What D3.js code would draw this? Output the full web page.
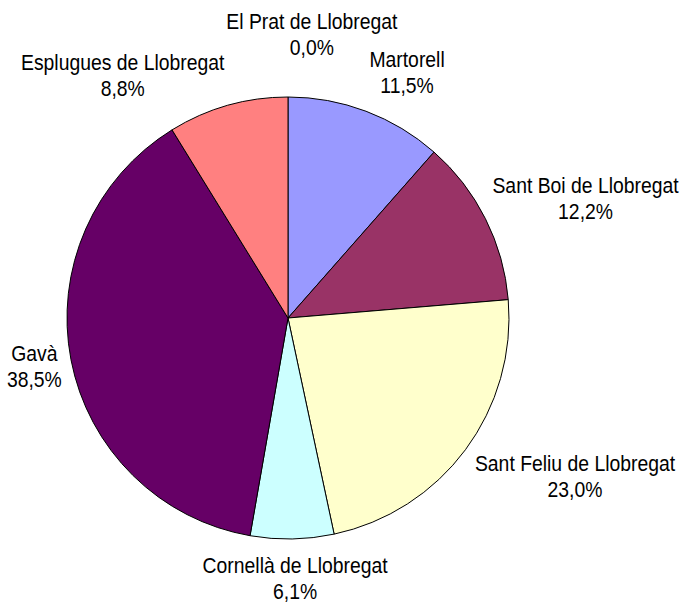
<!DOCTYPE html>
<html>
<head>
<meta charset="utf-8">
<script src="https://cdn.jsdelivr.net/npm/d3@7"></script>
<style>
  body { margin: 0; background: #fff; }
  text { font-family: "Liberation Sans", Arial, sans-serif; font-size: 22px; fill: #000; }
</style>
</head>
<body>
<svg width="685" height="602"></svg>
<script>
// data, clockwise from 12 o'clock
const names = ['Martorell', 'Sant Boi de Llobregat', 'Sant Feliu de Llobregat',
    'Cornellà de Llobregat', 'Gavà', 'Esplugues de Llobregat', 'El Prat de Llobregat'];
const shares = [11.5, 12.2, 23.0, 6.1, 38.5, 8.8, 0.0];
const colors = ['#9999FF', '#993366', '#FFFFCC', '#CCFFFF', '#660066', '#FF8080', '#0066CC'];

// hand nudges for labels (Excel moved some of them)
const labelNudge = {
    'Martorell': [21, 2],
    'Sant Boi de Llobregat': [0, -1],
    'Sant Feliu de Llobregat': [14, 0],
    'Cornellà de Llobregat': [1, -5],
    'Gavà': [9, -2],
    'Esplugues de Llobregat': [-72, 12],
    'El Prat de Llobregat': [24, -19]
};

const svg = d3.select('svg');
const cx = 288, cy = 318, radius = 221;
const narrow = 0.88; // fake a narrow face

const data = names.map((n, i) => ({ name: n, value: shares[i], color: colors[i] }));

const pie = d3.pie().sort(null).value(d => d.value);
const arc = d3.arc().innerRadius(0).outerRadius(radius);
const arcs = pie(data);

const g = svg.append('g').attr('transform', `translate(${cx},${cy})`);

g.selectAll('path').data(arcs.filter(a => a.data.value > 0))
    .enter().append('path')
    .attr('d', arc)
    .attr('fill', d => d.data.color)
    .attr('stroke', '#000')
    .attr('stroke-width', 1);

const fmt = v => v.toFixed(1).replace('.', ',') + '%';

const labels = g.selectAll('g.label').data(arcs)
    .enter().append('g').attr('class', 'label');

const inner = labels.append('g').attr('transform', `scale(${narrow},1)`);
inner.append('text').attr('text-anchor', 'middle').attr('y', 0).text(d => d.data.name);
inner.append('text').attr('text-anchor', 'middle').attr('y', 26).text(d => fmt(d.data.value));

labels.each(function(d) {
    const bb = this.getBBox();
    const mid = (d.startAngle + d.endAngle) / 2;
    const ux = Math.sin(mid), uy = -Math.cos(mid);
    const r = radius + 19;
    const bx = r * ux + ux * bb.width / 2;
    const by = r * uy + uy * bb.height / 2;
    const nudge = labelNudge[d.data.name] || [0, 0];
    const tx = bx + nudge[0] - (bb.x + bb.width / 2);
    const ty = by + nudge[1] - (bb.y + bb.height / 2);
    d3.select(this).attr('transform', `translate(${tx},${ty})`);
});
</script>
</body>
</html>
